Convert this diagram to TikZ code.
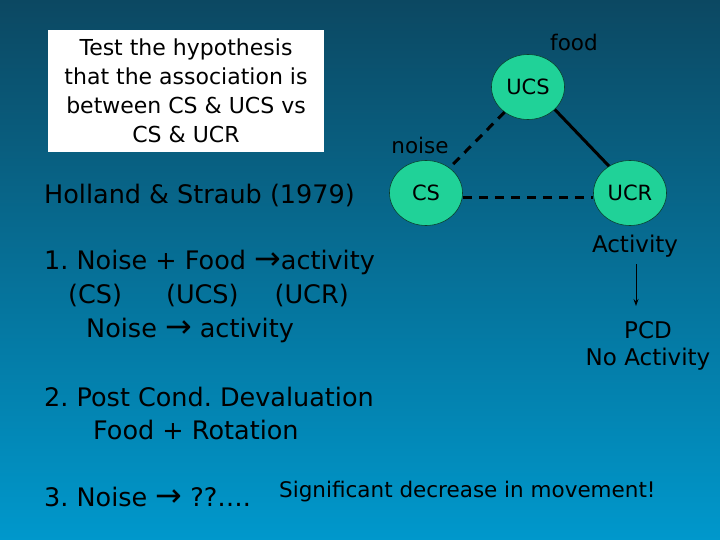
\documentclass[tikz,border=0pt]{standalone}
\usepackage{fontspec}
\setmainfont{DejaVu Sans}
\usetikzlibrary{arrows.meta,shapes.geometric}
\frenchspacing
\definecolor{bgtop}{RGB}{12,72,98}
\definecolor{bgbot}{RGB}{0,152,204}
\definecolor{mint}{RGB}{32,210,152}
\newcommand\bigarr{\scalebox{1.25}{→}}
\tikzset{
  txt/.style={anchor=west, inner sep=0pt, font=\fontsize{25.5}{29}\selectfont},
  small/.style={inner sep=0pt, font=\fontsize{21.5}{25}\selectfont},
  ann/.style={inner sep=0pt, font=\fontsize{23}{27}\selectfont},
  circ/.style={ellipse, draw=black!70!mint, line width=0.6pt, fill=mint, minimum width=73pt, minimum height=65pt, inner sep=0pt, font=\fontsize{21}{25}\selectfont},
  dashedge/.style={line width=3pt, dash pattern=on 9pt off 7pt},
  solidedge/.style={line width=3pt}
}
\begin{document}
\begin{tikzpicture}[x=1pt,y=-1pt]
\shade[top color=bgtop, bottom color=bgbot] (0,0) rectangle (720,540);
\useasboundingbox (0,0) rectangle (720,540);
% white box
\node[fill=white, minimum width=276pt, minimum height=122pt, inner sep=0pt] (box) at (186,91) {};
\node[align=center, font=\fontsize{22}{29}\selectfont, inner sep=0pt] (boxtxt) at (186,91) {Test the hypothesis\\that the association is\\between CS \& UCS vs\\CS \& UCR};
% left text
\node[txt] (holland) at (44,195) {Holland \& Straub (1979)};
\node[txt] (l1) at (44,262) {1. Noise + Food \bigarr activity};
\node[txt] (l1b) at (68,296) {(CS)\hspace{44pt}(UCS)\hspace{36pt}(UCR)};
\node[txt] (l1c) at (86,330) {Noise \bigarr{} activity};
\node[txt] (l2) at (44,397) {2. Post Cond. Devaluation};
\node[txt] (l2b) at (93,430) {Food + Rotation};
\node[txt] (l3) at (44,497) {3. Noise \bigarr{} ??….};
\node[small, anchor=west] (sig) at (279,492) {Significant decrease in movement!};
% graph
\node[circ] (ucs) at (528,87) {UCS};
\node[circ] (cs) at (426,193) {CS};
\node[circ] (ucr) at (630,193) {UCR};
\node[small] (food) at (574,42) {food};
\node[small] (noise) at (420,145) {noise};
\draw[dashedge] (ucs.227) -- (cs.47);
\draw[solidedge] (ucs.-40) -- (ucr.128);
\draw[dashedge] ([yshift=-5pt]cs.east) -- ([yshift=-5pt]ucr.west);
\node[ann] (act) at (635,246) {Activity};
\node[ann] (pcd) at (648,330) {PCD};
\node[ann] (noact) at (648,359) {No Activity};
\coordinate (a1) at (636,264);
\coordinate (a2) at (636,306);
\draw[-{Stealth[length=7pt,width=5pt]}, line width=1pt] (a1) -- (a2);
\end{tikzpicture}
\end{document}
